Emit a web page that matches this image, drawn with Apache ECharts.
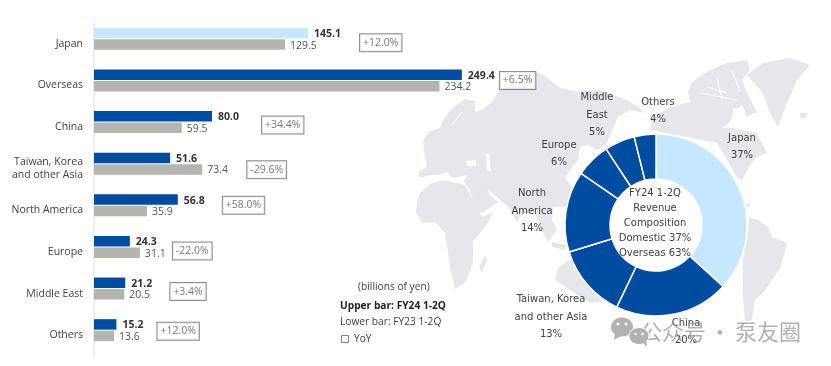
<!DOCTYPE html>
<html>
<head>
<meta charset="utf-8">
<style>
html,body{margin:0;padding:0;background:#fff}
#chart{width:831px;height:366px;filter:blur(0.35px)}
</style>
<script src="https://cdn.jsdelivr.net/npm/echarts@6/dist/echarts.min.js"></script>
</head>
<body>
<div id="chart"></div>
<script>
// bar chart data (billions of yen)
const categories = ['Japan', 'Overseas', 'China', 'Taiwan, Korea\nand other Asia', 'North America', 'Europe', 'Middle East', 'Others'];
const fy24 = [145.1, 249.4, 80.0, 51.6, 56.8, 24.3, 21.2, 15.2];
const fy23 = [129.5, 234.2, 59.5, 73.4, 35.9, 31.1, 20.5, 13.6];
const yoy = ['+12.0%', '+6.5%', '+34.4%', '-29.6%', '+58.0%', '-22.0%', '+3.4%', '+12.0%'];

// donut data, same FY24 figures without the Overseas subtotal
const pieNames = ['Japan', 'China', 'Taiwan, Korea\nand other Asia', 'North\nAmerica', 'Europe', 'Middle\nEast', 'Others'];
const pieValues = [145.1, 80.0, 51.6, 56.8, 24.3, 21.2, 15.2];
const piePct = [37, 20, 13, 14, 6, 5, 4];

// hand placed things: yoy box distance from the longer bar, and its vertical shift
const boxGap = [52, 38, 50, 45, 45, 33, 45, 41];
const boxShift = [4, 0, 3, 6, 0, 4, 3, 1];
const pieLabelPos = [[742, 147], [686, 332], [551, 317], [532, 211], [559, 154], [597, 115], [658, 111]];

const BLUE = '#004ca0', LIGHT = '#c5e7ff', GREY = '#b5b5af', TEXT = '#404040', MAP = '#e5e7eb';
const BAR_FONT = '"Open Sans"', PIE_FONT = '"DejaVu Sans"';

// background world map, rough outlines
const land = [
  // eurasia
  [[423,142],[428,132],[440,128],[443,120],[452,108],[465,99],[475,101],[475,112],[482,110],[492,102],[498,92],[510,85],[523,78],[533,70],[543,75],[550,80],[560,88],[580,92],[597,90],[613,95],[627,100],[640,108],[643,113],[630,110],[618,117],[613,128],[607,143],[598,150],[587,145],[580,147],[578,160],[570,170],[565,178],[573,188],[570,200],[567,207],[553,207],[552,220],[557,230],[548,242],[540,227],[535,213],[522,213],[517,222],[508,207],[498,198],[487,188],[490,195],[498,202],[482,213],[478,212],[468,187],[465,183],[463,182],[468,175],[453,178],[447,172],[440,175],[430,175],[420,178],[418,172],[427,167],[425,157]],
  // africa
  [[417,202],[420,193],[430,184],[443,180],[465,185],[472,198],[482,217],[493,212],[488,223],[473,242],[473,263],[465,283],[455,289],[452,277],[448,253],[445,233],[435,222],[422,223],[416,212]],
  // madagascar
  [[485,255],[487,260],[482,273],[479,267]],
  // australia
  [[555,280],[558,268],[572,258],[590,262],[610,290],[620,300],[590,303],[570,290]],
  // indonesia
  [[552,242],[567,245],[565,250],[552,247]],
  // north america
  [[653,117],[670,107],[690,102],[688,93],[692,82],[710,70],[727,63],[747,60],[750,70],[742,80],[747,93],[757,112],[747,117],[742,105],[733,113],[730,122],[723,128],[732,128],[757,133],[767,153],[757,157],[750,165],[742,180],[737,177],[717,143],[650,130]],
  // greenland
  [[747,75],[763,63],[790,58],[810,65],[797,80],[787,103],[778,127],[770,113],[763,93]],
  // iceland
  [[800,113],[808,113],[805,119],[800,117]],
  // south america
  [[749,217],[758,220],[768,227],[772,237],[787,243],[785,252],[780,268],[772,280],[763,293],[755,300],[752,320],[745,322],[743,297],[743,260],[748,233]],
  [[746,203],[750,204],[750,207],[746,206]]
];
// inland water
const water = [
  [[486,153],[489,155],[491,172],[487,170]],  // caspian
  [[466,161],[476,160],[476,166],[467,166]],  // black sea
  [[733,108],[745,110],[742,125],[733,125]]   // hudson bay
];
// channels through the canadian islands and scandinavia
const channels = [
  [[707,87],[727,93]],
  [[717,78],[722,100]],
  [[700,93],[737,100]],
  [[732,70],[740,92]],
  [[452,125],[462,112]]
];

const graphicEls = [];
land.forEach(p => graphicEls.push({type: 'polygon', silent: true, z: -10, shape: {points: p}, style: {fill: MAP}}));
water.forEach(p => graphicEls.push({type: 'polygon', silent: true, z: -9, shape: {points: p}, style: {fill: '#fff'}}));
channels.forEach(p => graphicEls.push({type: 'polyline', silent: true, z: -9, shape: {points: p}, style: {stroke: '#fff', lineWidth: 1, fill: null}}));

// axis line runs a bit past the grid
graphicEls.push({type: 'line', silent: true, z: 1, shape: {x1: 94, y1: 23, x2: 94, y2: 357}, style: {stroke: '#dcdcdc', lineWidth: 1}});

function note(text, x, y, extra) {
  return {
    type: 'text', silent: true, z: 5, x: x, y: y,
    style: Object.assign({text: text, fill: TEXT, fontFamily: BAR_FONT, fontSize: 10.2, verticalAlign: 'middle'}, extra)
  };
}
graphicEls.push(note('(billions of yen)', 358, 287));
graphicEls.push(note('Upper bar: FY24 1-2Q', 340, 306, {fontWeight: 'bold', fill: '#222'}));
graphicEls.push(note('Lower bar: FY23 1-2Q', 340, 322));
graphicEls.push({type: 'rect', silent: true, z: 5, shape: {x: 341.5, y: 335.5, width: 7, height: 7}, style: {fill: '#fff', stroke: '#808080', lineWidth: 1}});
graphicEls.push(note('YoY', 354, 339));

// donut centre text
graphicEls.push({
  type: 'text', silent: true, z: 20, x: 655, y: 223,
  style: {
    text: 'FY24 1-2Q\nRevenue\nComposition\nDomestic 37%\nOverseas 63%',
    fill: TEXT, fontFamily: PIE_FONT, fontSize: 10, lineHeight: 15, align: 'center', verticalAlign: 'middle'
  }
});

// watermark
const MARK = '#b2b2b2';
graphicEls.push({type: 'ellipse', silent: true, z: 30, shape: {cx: 622, cy: 327, rx: 11, ry: 9.5}, style: {fill: MARK}});
graphicEls.push({type: 'polygon', silent: true, z: 30, shape: {points: [[615,333],[614,340],[621,336]]}, style: {fill: MARK}});
graphicEls.push({type: 'circle', silent: true, z: 31, shape: {cx: 618, cy: 324, r: 1.5}, style: {fill: '#fff'}});
graphicEls.push({type: 'circle', silent: true, z: 31, shape: {cx: 626, cy: 324, r: 1.5}, style: {fill: '#fff'}});
graphicEls.push({type: 'ellipse', silent: true, z: 32, shape: {cx: 639, cy: 336, rx: 10, ry: 8.5}, style: {fill: MARK, stroke: '#fff', lineWidth: 1}});
graphicEls.push({type: 'polygon', silent: true, z: 32, shape: {points: [[642,342],[647,347],[646,340]]}, style: {fill: MARK}});
graphicEls.push({type: 'circle', silent: true, z: 33, shape: {cx: 635.5, cy: 334, r: 1.3}, style: {fill: '#fff'}});
graphicEls.push({type: 'circle', silent: true, z: 33, shape: {cx: 642.5, cy: 334, r: 1.3}, style: {fill: '#fff'}});
['公众号', '·', '泵友圈'].forEach((t, i) => {
  graphicEls.push({
    type: 'text', silent: true, z: 30, x: [640, 720, 735][i], y: 332,
    style: {text: t, fill: 'rgba(150,150,150,0.75)', fontFamily: '"Noto Sans CJK SC"', fontSize: 22, align: i === 1 ? 'center' : 'left', verticalAlign: 'middle'}
  });
});

const chart = echarts.init(document.getElementById('chart'));
chart.setOption({
  animation: false,
  backgroundColor: '#fff',
  // second grid only carries the category names, they sit lower than the bars in the original
  grid: [
    {left: 94, top: 18, width: 590, height: 333},
    {left: 94, top: 23, width: 590, height: 333}
  ],
  xAxis: [
    {type: 'value', min: 0, max: 400, show: false},
    {type: 'value', min: 0, max: 400, show: false, gridIndex: 1}
  ],
  yAxis: [
    {type: 'category', inverse: true, data: categories, show: false},
    {
      type: 'category',
      gridIndex: 1,
      inverse: true,
      data: categories,
      axisLine: {show: false},
      axisTick: {show: false},
      axisLabel: {color: TEXT, fontFamily: BAR_FONT, fontSize: 10.5, lineHeight: 13.5, margin: 11, align: 'right'}
    }
  ],
  graphic: {elements: graphicEls},
  series: [
    {
      name: 'FY24 1-2Q',
      type: 'bar',
      barWidth: 10.5,
      barGap: '10%',
      data: fy24.map((v, i) => ({value: v, itemStyle: {color: i === 0 ? LIGHT : BLUE}})),
      label: {
        show: true, position: 'right', distance: 6, offset: [0, 1], color: '#333', fontFamily: BAR_FONT, fontSize: 10.5, fontWeight: 'bold',
        formatter: p => p.value.toFixed(1)
      }
    },
    {
      name: 'FY23 1-2Q',
      type: 'bar',
      barWidth: 10.5,
      itemStyle: {color: GREY},
      data: fy23,
      label: {
        show: true, position: 'right', distance: 5, offset: [0, 1], color: '#555', fontFamily: BAR_FONT, fontSize: 10.5,
        formatter: p => p.value.toFixed(1)
      }
    },
    {
      // yoy boxes, hung off the end of the longer bar
      name: 'YoY',
      type: 'scatter',
      symbolSize: 0,
      silent: true,
      data: yoy.map((t, i) => ({
        value: [Math.max(fy24[i], fy23[i]), i],
        label: {
          show: true, position: 'right', distance: boxGap[i], offset: [0, boxShift[i]],
          formatter: t, color: '#555', fontFamily: BAR_FONT, fontSize: 10.5,
          borderColor: '#707070', borderWidth: 1, padding: [3, 3], backgroundColor: '#fff'
        }
      }))
    },
    {
      name: 'Revenue composition',
      type: 'pie',
      silent: true,
      center: [656, 225],
      radius: [46, 91],
      startAngle: 90,
      clockwise: true,
      data: pieValues.map((v, i) => ({
        value: v,
        name: pieNames[i],
        itemStyle: {color: i === 0 ? LIGHT : BLUE, borderColor: '#fff', borderWidth: 1.5}
      })),
      label: {
        show: true, color: TEXT, fontFamily: PIE_FONT, fontSize: 10, lineHeight: 17.5, align: 'center',
        formatter: p => p.name + '\n' + piePct[p.dataIndex] + '%'
      },
      labelLine: {show: false},
      labelLayout: p => ({x: pieLabelPos[p.dataIndex][0], y: pieLabelPos[p.dataIndex][1], align: 'center', verticalAlign: 'middle'})
    }
  ]
});
</script>
</body>
</html>
